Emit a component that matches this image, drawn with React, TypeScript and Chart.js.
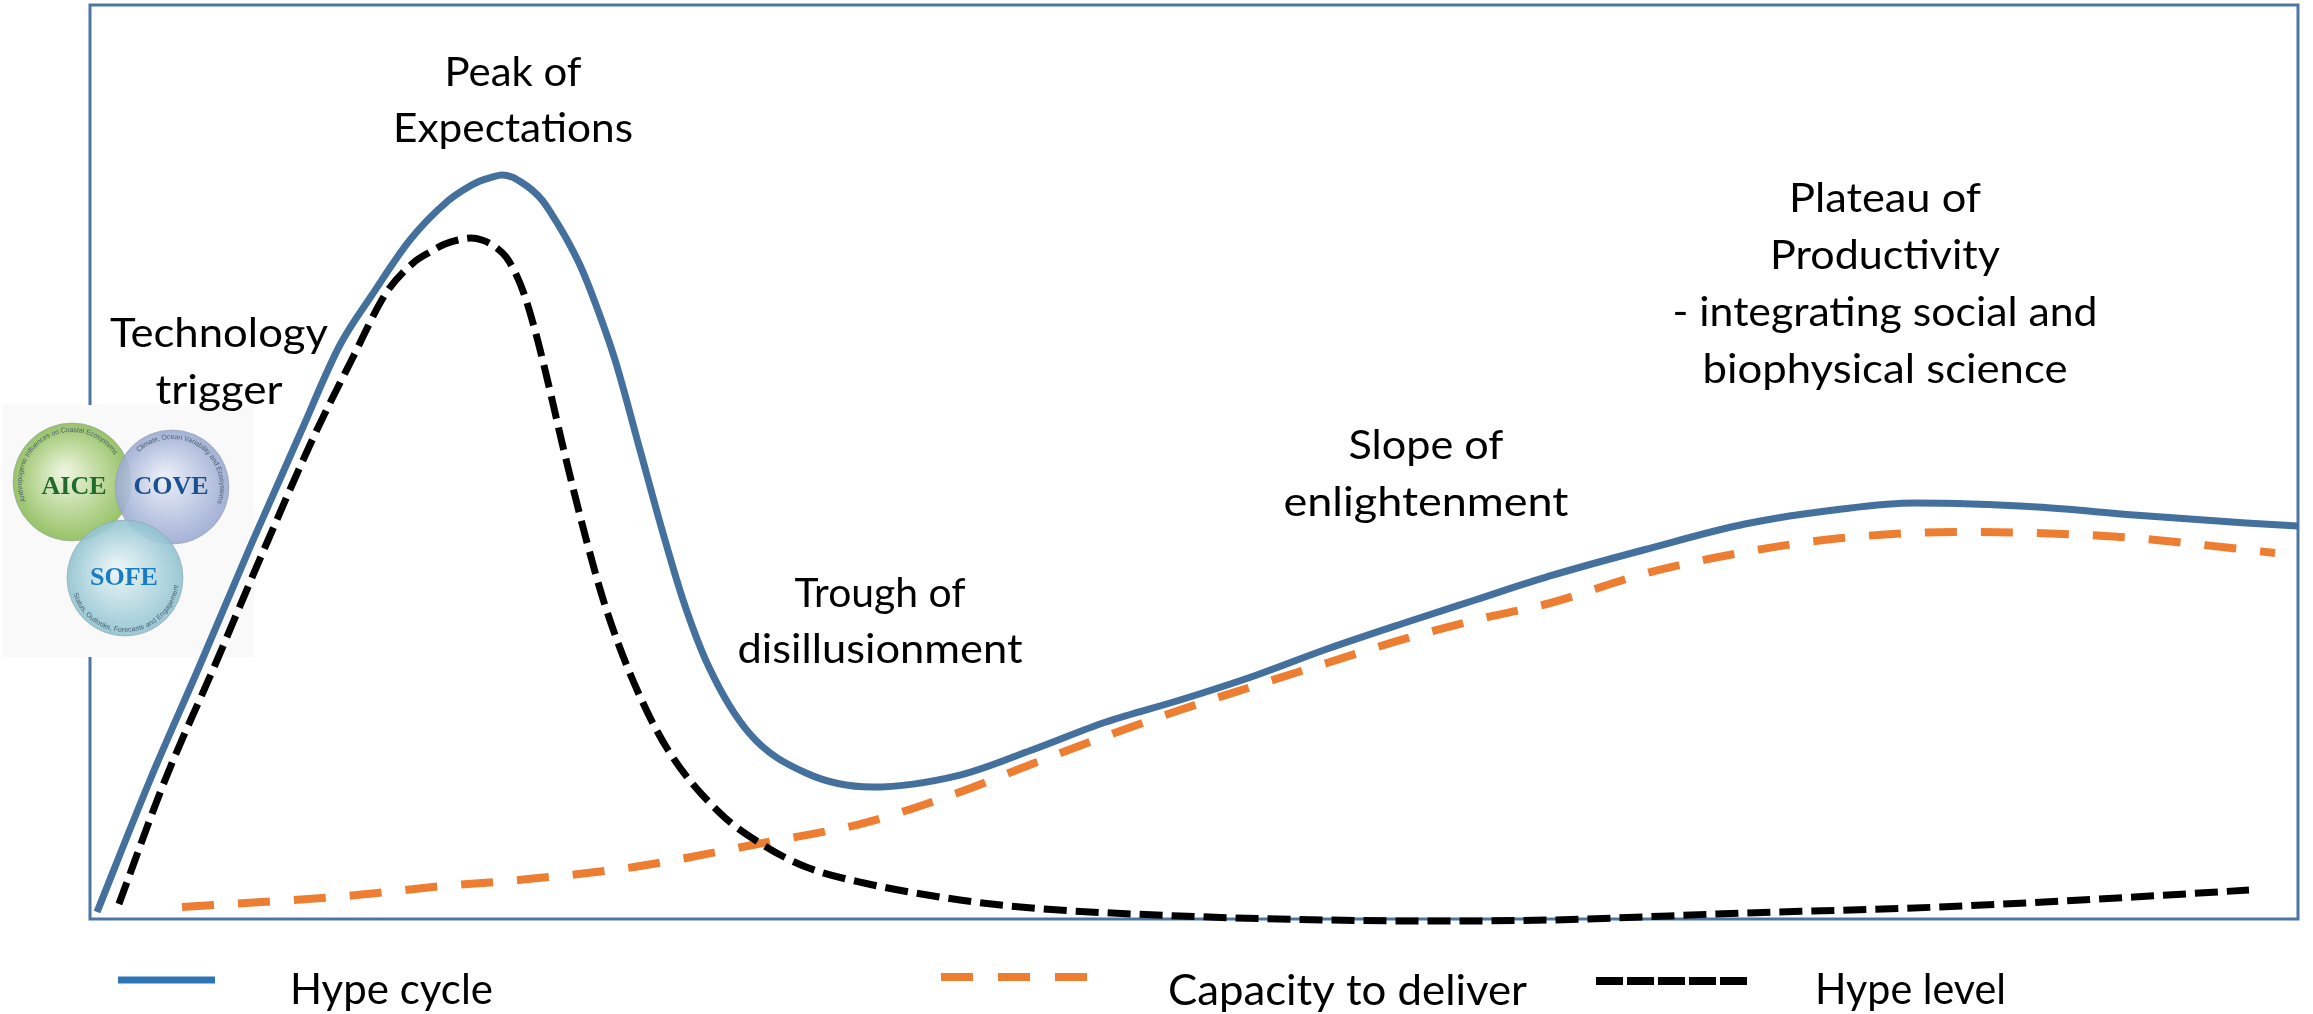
import React, { useEffect, useRef } from "react";
import { Chart, registerables } from "chart.js";

Chart.register(...registerables);

// ---- Data (x: time 0-100 across the frame, y: visibility 0-100) ----
const hypeCycleX = [0.32, 2.72, 4.98, 7.25, 9.51, 11.32, 12.77, 14.49, 16.21, 16.98, 17.66, 18.21, 18.66, 19.11, 19.57, 20.02, 20.47, 20.88, 21.51, 22.19, 22.78, 23.78, 24.91, 25.91, 26.86, 28.03, 29.85, 32.43, 35.42, 39.4, 42.66, 46.01, 49.37, 52.72, 56.02, 59.38, 62.73, 66.12, 70.52, 74.95, 79.35, 82.65, 88.18, 92.57, 97.64, 100];
const hypeCycleY = [0.77, 15.21, 27.79, 40.7, 53.06, 62.8, 68.27, 74.29, 78.56, 79.87, 80.74, 81.18, 81.4, 81.18, 80.55, 79.76, 78.67, 77.24, 74.73, 71.55, 68.05, 61.16, 51.31, 42.56, 34.9, 27.57, 20.35, 15.97, 14.44, 15.75, 18.49, 21.55, 23.96, 26.59, 29.54, 32.28, 34.9, 37.53, 40.48, 43.22, 44.86, 45.51, 45.08, 44.2, 43.33, 43.0];

const capacityX = [4.17, 11.64, 15.99, 19.43, 24.64, 30.48, 35.05, 39.4, 42.66, 46.01, 49.37, 52.72, 56.02, 59.38, 62.73, 66.12, 70.52, 74.95, 79.35, 84.42, 88.18, 92.57, 96.97, 98.96];
const capacityY = [1.31, 2.52, 3.61, 4.27, 5.69, 8.32, 10.5, 13.89, 16.96, 20.02, 22.87, 25.49, 28.01, 30.53, 32.71, 34.57, 37.86, 40.15, 41.68, 42.34, 42.23, 41.68, 40.59, 40.04];

const hypeLevelX = [1.31, 3.4, 5.66, 7.93, 10.19, 11.87, 13.41, 14.63, 15.4, 16.08, 16.67, 17.26, 17.75, 18.3, 18.84, 19.29, 19.66, 20.15, 20.61, 21.51, 22.42, 23.32, 24.64, 26.18, 28.53, 30.48, 32.43, 35.05, 39.4, 42.66, 49.37, 56.02, 60.46, 66.12, 74.95, 83.74, 92.57, 97.78];
const hypeLevelY = [1.64, 15.21, 27.79, 40.7, 53.06, 61.27, 68.49, 71.77, 72.98, 73.85, 74.29, 74.51, 74.29, 73.63, 72.43, 70.57, 68.38, 64.44, 60.07, 50.77, 42.01, 34.35, 25.82, 18.49, 11.6, 8.1, 5.69, 3.94, 2.08, 1.2, 0.33, -0.11, -0.22, -0.11, 0.66, 1.31, 2.41, 3.17];

const seriesNames = ["Hype cycle", "Capacity to deliver", "Hype level"];

const phaseLabels = [
  ["Peak of", "Expectations"],
  ["Technology", "trigger"],
  ["Trough of", "disillusionment"],
  ["Slope of", "enlightenment"],
  ["Plateau of", "Productivity", "- integrating social and", "biophysical science"],
];

const logoNames = ["AICE", "COVE", "SOFE"];
const logoArcTexts = [
  "Anthropogenic Influences on Coastal Ecosystems",
  "Climate, Ocean Variability and Ecosystems",
  "Status, Outlooks, Forecasts and Engagement",
];

// ---- Styling / layout ----
const W = 2313;
const H = 1014;
const FRAME = "#4d75a3";
const BLUE = "#44709d";
const LEGEND_BLUE = "#2e75b6";
const ORANGE = "#ed7d31";
const BLACK = "#000000";
const LABEL_FONT = "Lato";
const LABEL_SIZE = 41;

// [centerX, firstBaseline, lineStep, target widths per line]
const labelLayout: [number, number, number, number[]][] = [
  [513, 86, 56, [137, 240]],
  [219, 347, 57, [218, 127]],
  [880, 607, 56, [171, 285]],
  [1426, 459, 57, [155, 285]],
  [1885, 212, 57, [192, 230, 425, 365]],
];

function zip(xs: number[], ys: number[]) {
  return xs.map((x, i) => ({ x, y: ys[i] }));
}

function fitText(ctx: CanvasRenderingContext2D, text: string, cx: number, base: number, target: number, align: "center" | "left" = "center") {
  const w = ctx.measureText(text).width;
  const s = target > 0 ? target / w : 1;
  ctx.save();
  ctx.translate(cx, base);
  ctx.scale(s, 1);
  ctx.textAlign = align;
  ctx.textBaseline = "alphabetic";
  ctx.fillText(text, 0, 0);
  ctx.restore();
}

function arcText(ctx: CanvasRenderingContext2D, text: string, cx: number, cy: number, r: number, start: number, clockwise: boolean) {
  let ang = start;
  for (const ch of text) {
    const w = ctx.measureText(ch).width;
    const da = w / r;
    const a = clockwise ? ang + da / 2 : ang - da / 2;
    ctx.save();
    ctx.translate(cx + r * Math.cos(a), cy + r * Math.sin(a));
    ctx.rotate(clockwise ? a + Math.PI / 2 : a - Math.PI / 2);
    ctx.fillText(ch, 0, 0);
    ctx.restore();
    ang = clockwise ? ang + da : ang - da;
  }
}

function drawLogo(ctx: CanvasRenderingContext2D) {
  ctx.save();
  ctx.fillStyle = "#f9f9f9";
  ctx.fillRect(2, 405, 252, 252);
  const circles = [
    { cx: 72, cy: 482, r: 59, inner: "#e8f2d6", outer: "#8dbd58", text: "#1f6a2c", tx: 74, ty: 487 },
    { cx: 172, cy: 487, r: 57, inner: "#e6ebf6", outer: "#9aaad2", text: "#1b5090", tx: 171, ty: 487 },
    { cx: 125, cy: 578, r: 58, inner: "#e6f3f5", outer: "#8fc3d0", text: "#1a7cc0", tx: 124, ty: 578 },
  ];
  circles.forEach((c) => {
    const g = ctx.createRadialGradient(c.cx - 8, c.cy - 10, 4, c.cx, c.cy, c.r);
    g.addColorStop(0, c.inner);
    g.addColorStop(1, c.outer);
    ctx.globalAlpha = 0.9;
    ctx.fillStyle = g;
    ctx.beginPath();
    ctx.arc(c.cx, c.cy, c.r, 0, Math.PI * 2);
    ctx.fill();
    ctx.globalAlpha = 1;
    ctx.strokeStyle = "rgba(150,160,170,0.6)";
    ctx.lineWidth = 1;
    ctx.stroke();
  });
  ctx.textAlign = "center";
  ctx.textBaseline = "middle";
  ctx.font = "bold 26px 'Liberation Serif'";
  circles.forEach((c, i) => {
    ctx.fillStyle = c.text;
    ctx.fillText(logoNames[i], c.tx, c.ty);
  });
  ctx.font = "7px 'Liberation Sans'";
  ctx.fillStyle = "#4d6070";
  arcText(ctx, logoArcTexts[0], 72, 482, 52, 2.75, true);
  arcText(ctx, logoArcTexts[1], 172, 487, 50, 3.95, true);
  arcText(ctx, logoArcTexts[2], 125, 578, 52, 2.85, false);
  ctx.restore();
}

const decorPlugin = {
  id: "decor",
  beforeDraw(chart: any) {
    const { ctx, width, height } = chart;
    ctx.save();
    ctx.fillStyle = "#ffffff";
    ctx.fillRect(0, 0, width, height);
    ctx.restore();
  },
  beforeDatasetsDraw(chart: any) {
    const { ctx, chartArea: a } = chart;
    ctx.save();
    ctx.strokeStyle = FRAME;
    ctx.lineWidth = 3;
    ctx.strokeRect(a.left, a.top, a.right - a.left, a.bottom - a.top);
    ctx.restore();
    drawLogo(ctx);
  },
  afterDatasetsDraw(chart: any) {
    const { ctx } = chart;
    ctx.save();
    ctx.fillStyle = "#000";
    ctx.font = `${LABEL_SIZE}px ${LABEL_FONT}`;
    phaseLabels.forEach((lines, i) => {
      const [cx, b0, step, widths] = labelLayout[i];
      lines.forEach((t, j) => fitText(ctx, t, cx, b0 + j * step, widths[j]));
    });

    // legend
    const ds = chart.data.datasets;
    const legendY = 979;
    ctx.strokeStyle = LEGEND_BLUE;
    ctx.lineWidth = 7;
    ctx.setLineDash([]);
    ctx.beginPath();
    ctx.moveTo(118, legendY + 1);
    ctx.lineTo(215, legendY + 1);
    ctx.stroke();
    ctx.strokeStyle = ds[1].borderColor;
    ctx.lineWidth = 8;
    ctx.setLineDash([32, 25]);
    ctx.beginPath();
    ctx.moveTo(941, legendY - 2);
    ctx.lineTo(1087, legendY - 2);
    ctx.stroke();
    ctx.strokeStyle = ds[2].borderColor;
    ctx.lineWidth = 8;
    ctx.setLineDash([27, 4]);
    ctx.beginPath();
    ctx.moveTo(1596, legendY + 2);
    ctx.lineTo(1749, legendY + 2);
    ctx.stroke();
    ctx.setLineDash([]);
    ctx.fillStyle = "#000";
    ctx.font = `${LABEL_SIZE + 2}px ${LABEL_FONT}`;
    fitText(ctx, seriesNames[0], 290, 1004, 203, "left");
    fitText(ctx, seriesNames[1], 1168, 1005, 359, "left");
    fitText(ctx, seriesNames[2], 1815, 1004, 191, "left");
    ctx.restore();
  },
};

export default function App() {
  const ref = useRef<HTMLCanvasElement | null>(null);

  useEffect(() => {
    document.body.style.margin = "0";
    const canvas = ref.current;
    if (!canvas) return;
    const chart = new Chart(canvas, {
      type: "line",
      data: {
        datasets: [
          {
            label: seriesNames[0],
            data: zip(hypeCycleX, hypeCycleY),
            borderColor: BLUE,
            borderWidth: 7,
            pointRadius: 0,
            cubicInterpolationMode: "monotone",
            fill: false,
            order: 3,
          },
          {
            label: seriesNames[1],
            data: zip(capacityX, capacityY),
            borderColor: ORANGE,
            borderWidth: 8,
            borderDash: [32, 24],
            pointRadius: 0,
            cubicInterpolationMode: "monotone",
            fill: false,
            order: 2,
          },
          {
            label: seriesNames[2],
            data: zip(hypeLevelX, hypeLevelY),
            borderColor: BLACK,
            borderWidth: 7,
            borderDash: [23, 9],
            pointRadius: 0,
            cubicInterpolationMode: "monotone",
            fill: false,
            clip: 10,
            order: 1,
          },
        ],
      },
      options: {
        animation: false,
        responsive: false,
        devicePixelRatio: 1,
        layout: { padding: { left: 90, top: 5, right: W - 2298, bottom: H - 919 } },
        scales: {
          x: { type: "linear", min: 0, max: 100, display: false },
          y: { type: "linear", min: 0, max: 100, display: false },
        },
        plugins: {
          legend: { display: false },
          tooltip: { enabled: false },
        },
        events: [],
      },
      plugins: [decorPlugin],
    } as any);
    return () => chart.destroy();
  }, []);

  return (
    <div style={{ width: W, height: H }}>
      <canvas ref={ref} width={W} height={H} style={{ display: "block", width: W, height: H }} />
    </div>
  );
}
